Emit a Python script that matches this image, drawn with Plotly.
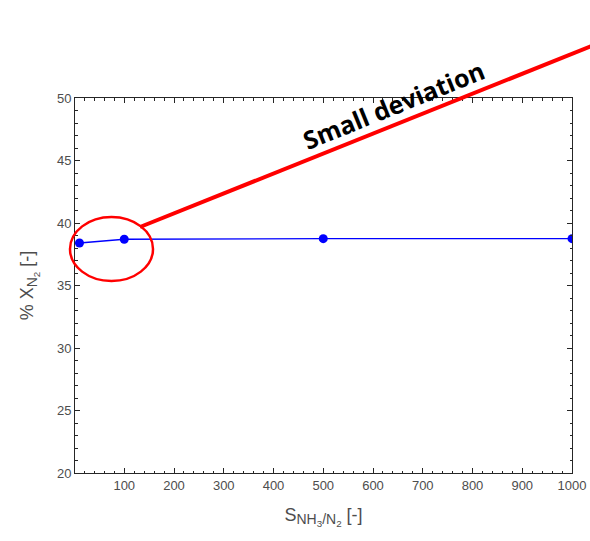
import plotly.graph_objects as go

# Selectivity ratio S_NH3/N2 and resulting N2 conversion (%)
selectivity = [10, 100, 500, 1000]
x_n2 = [38.4, 38.7, 38.75, 38.75]

x_ticks = [100, 200, 300, 400, 500, 600, 700, 800, 900, 1000]
y_ticks = [20, 25, 30, 35, 40, 45, 50]

W, H = 590, 541
L, R, T, B = 75, 18, 98, 68
PW, PH = W - L - R, H - T - B


def px(xp):
    return (xp - L) / PW


def py(yp):
    return (H - B - yp) / PH


def sub(text, size):
    return f'<sub><span style="font-size:{size}px">{text}</span></sub>'


axis_col = "#262626"
txt_col = "#4d4d4d"
family = "Liberation Sans, Arial, sans-serif"
tick_font = dict(family=family, size=13, color=txt_col)
title_font = dict(family=family, size=18, color=txt_col)

x_title = "S" + sub("NH<sub>3</sub>/N<sub>2</sub>", 14) + " [-]"
y_title = "% X" + sub("N<sub>2</sub>", 14) + " [-]"

fig = go.Figure()
fig.add_trace(go.Scatter(
    x=selectivity, y=x_n2, mode="lines+markers",
    line=dict(color="#0000ff", width=1.3),
    marker=dict(color="#0000ff", size=9),
    showlegend=False,
))

common = dict(
    showgrid=False, zeroline=False, showline=True, linecolor=axis_col, linewidth=1,
    mirror="allticks", ticks="inside", ticklen=5, tickcolor=axis_col,
    tickfont=tick_font, automargin=False,
)

fig.update_xaxes(
    range=[1, 1000], tickvals=x_ticks, ticktext=[str(v) for v in x_ticks],
    minor=dict(dtick=20, tick0=0, ticks="inside", ticklen=2.5, tickcolor=axis_col),
    title=dict(text=x_title, font=title_font, standoff=16),
    **common,
)
fig.update_yaxes(
    range=[20, 50], tickvals=y_ticks, ticktext=[str(v) for v in y_ticks],
    minor=dict(dtick=1, tick0=20, ticks="inside", ticklen=2.5, tickcolor=axis_col),
    title=dict(text=y_title, font=title_font, standoff=18),
    **common,
)

# Highlight of the low-selectivity region and its callout
fig.add_shape(type="circle", xref="paper", yref="paper",
              x0=px(70), x1=px(153), y0=py(281), y1=py(217),
              line=dict(color="#ff0000", width=2.5))
fig.add_shape(type="line", xref="paper", yref="paper",
              x0=px(140), y0=py(227), x1=px(594), y1=py(45),
              line=dict(color="#ff0000", width=4))
fig.add_annotation(xref="paper", yref="paper", x=px(393), y=py(105),
                   text="<b>Small deviation</b>", showarrow=False, textangle=-22,
                   font=dict(family="Open Sans, sans-serif", size=25, color="black"),
                   xanchor="center", yanchor="middle")

fig.update_layout(
    width=W, height=H, margin=dict(l=L, r=R, t=T, b=B),
    paper_bgcolor="white", plot_bgcolor="white",
)

fig.write_html("out.html")
